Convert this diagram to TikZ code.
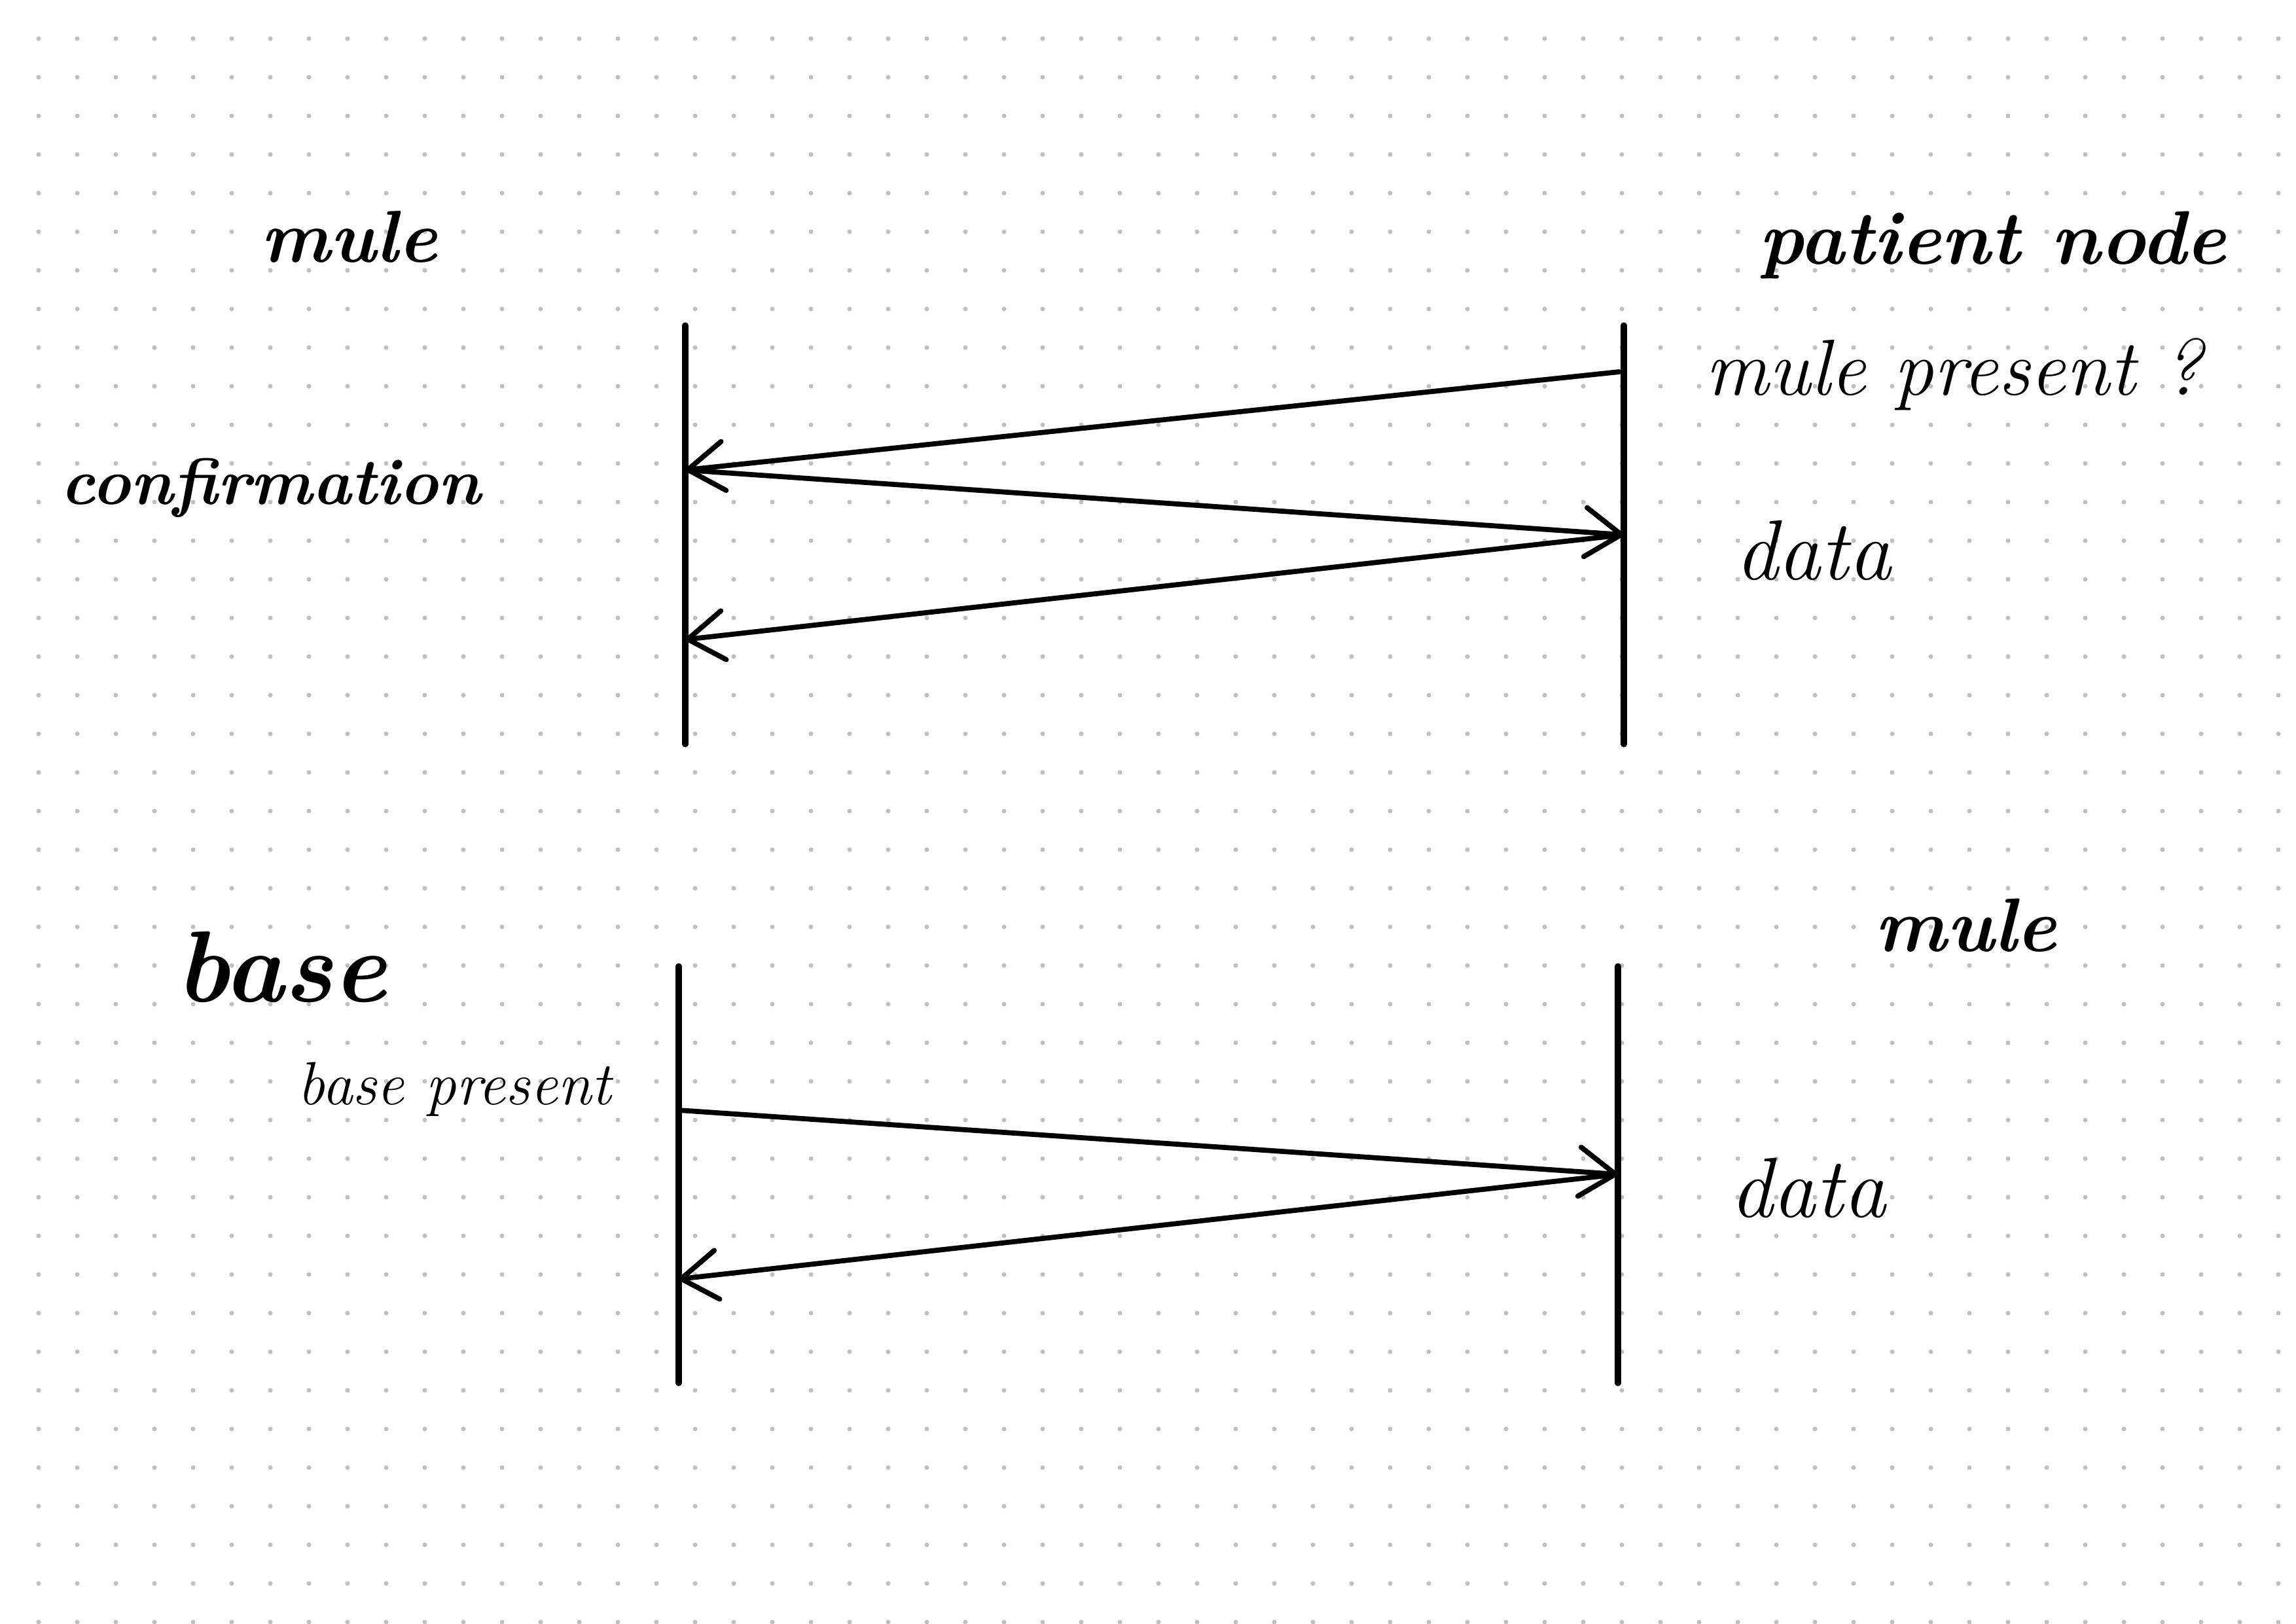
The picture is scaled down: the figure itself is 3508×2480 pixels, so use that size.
\documentclass[tikz,border=0pt]{standalone}
\usetikzlibrary{arrows.meta}
\pgfmathsetmacro{\dotgap}{59}

\begin{document}
\begin{tikzpicture}[x=0.01cm,y=-0.01cm,
    life/.style={line width=2.6pt,line cap=round},
    msg/.style={line width=2.2pt,line cap=round,
      -{Straight Barb[length=5.5mm,width=7.5mm,round]}},
    hand/.style={inner sep=0pt,anchor=base west},
    head/.style={hand,font=\bfseries\itshape\fontsize{#1}{#1}\selectfont},
    note/.style={hand,font=\itshape\fontsize{#1}{#1}\selectfont}]
  \useasboundingbox (0,0) rectangle (3508,2480);
  \foreach \i in {1,...,59}
    \foreach \j in {1,...,42}
      \fill[gray!50] (\i*\dotgap,\j*\dotgap) circle (0.035cm);

  \node[head=32] (mule) at (398,400) {mule};
  \node[head=33] (patient) at (2687,403) {patient node};
  \node[note=34.5] (ask) at (2605,603) {mule present ?};
  \node[head=28.5] (confirm) at (92,770) {confirmation};
  \node[note=37] (data) at (2651,885) {data};

  \coordinate (mule top) at (1047,497);
  \coordinate (mule bot) at (1047,1137);
  \coordinate (patient top) at (2481,497);
  \coordinate (patient bot) at (2481,1137);
  \draw[life] (mule top) -- (mule bot);
  \draw[life] (patient top) -- (patient bot);
  \coordinate (ask start) at (2474,568);
  \coordinate (ask end) at (1047,718);
  \coordinate (data end) at (2481,817);
  \coordinate (ack end) at (1047,977);
  \draw[msg] (ask start) -- (ask end);
  \draw[msg] (ask end) -- (data end);
  \draw[msg] (data end) -- (ack end);

  \node[head=44] (base) at (268,1530) {base};
  \node[note=26.5] (basask) at (454,1687) {base present};
  \node[head=33] (mule2) at (2864,1453) {mule};
  \node[note=37] (data2) at (2643,1859) {data};

  \coordinate (base top) at (1037,1476);
  \coordinate (base bot) at (1037,2113);
  \coordinate (mule2 top) at (2472,1476);
  \coordinate (mule2 bot) at (2472,2113);
  \draw[life] (base top) -- (base bot);
  \draw[life] (mule2 top) -- (mule2 bot);
  \coordinate (basask start) at (1037,1696);
  \coordinate (basask end) at (2472,1794);
  \coordinate (back end) at (1037,1954);
  \draw[msg] (basask start) -- (basask end);
  \draw[msg] (basask end) -- (back end);
\end{tikzpicture}
\end{document}
